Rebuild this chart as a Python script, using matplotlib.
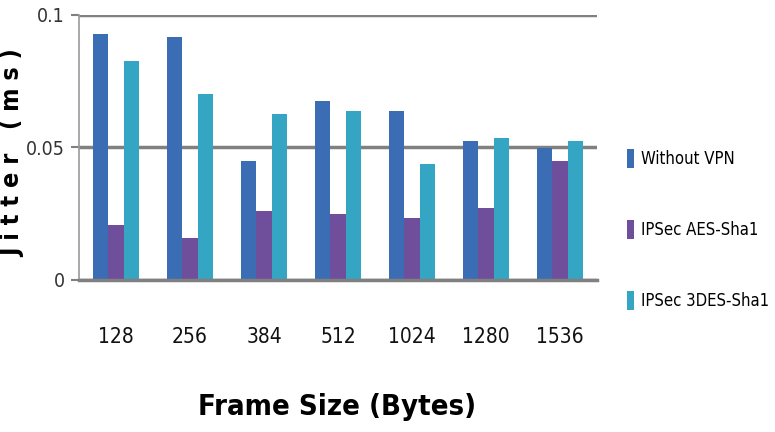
import matplotlib
matplotlib.use("Agg")
import matplotlib.pyplot as plt
import numpy as np

categories = ["128", "256", "384", "512", "1024", "1280", "1536"]
without_vpn = [0.0928, 0.0917, 0.0448, 0.0675, 0.0637, 0.0524, 0.0497]
ipsec_aes = [0.0206, 0.0157, 0.0260, 0.0248, 0.0233, 0.0270, 0.0448]
ipsec_3des = [0.0826, 0.0701, 0.0626, 0.0637, 0.0437, 0.0535, 0.0524]
series_names = ["Without VPN", "IPSec AES-Sha1", "IPSec 3DES-Sha1"]
yticks = [0, 0.05, 0.1]
ytick_labels = ["0", "0.05", "0.1"]

colors = ["#3B6DB5", "#6F4E9B", "#34A6C3"]
fp = dict(family="DejaVu Sans", stretch="condensed")

fig = plt.figure(figsize=(7.75, 4.32), dpi=100)
ax = fig.add_axes([79/775, 1-279.5/432, (597-79)/775, (279.5-15)/432])

x = np.arange(len(categories))
w = 0.21
for i, (vals, name) in enumerate(zip([without_vpn, ipsec_aes, ipsec_3des], series_names)):
    ax.bar(x + (i - 1) * w, vals, width=w, color=colors[i], label=name, zorder=3)

ax.set_xlim(-0.5, len(categories) - 0.5)
ax.set_ylim(0, 0.1)
ax.set_yticks(yticks)
ax.set_yticklabels(ytick_labels, fontsize=14, color="#333333", **fp)
ax.set_xticks(x)
ax.set_xticklabels(categories, fontsize=15, color="#111111", **fp)
ax.tick_params(axis="x", length=0, pad=34)
ax.tick_params(axis="y", length=6, color="#808080", width=1.5, pad=4)
ax.grid(axis="y", color="#808080", linewidth=2.5, zorder=0)
ax.set_axisbelow(True)
for s in ["top", "right", "bottom"]:
    ax.spines[s].set_visible(False)
ax.spines["left"].set_color("#999999")
ax.spines["left"].set_linewidth(1.2)
ax.axhline(0, color="#808080", linewidth=2.5, zorder=4, clip_on=False)

fig.text(337/775, 1-407/432, "Frame Size (Bytes)", ha="center", va="center",
         fontsize=21, fontweight="bold", color="#000000", **fp)
fig.text(1/775, 1-153/432, "J i t t e r   ( m s )", ha="left", va="center",
         rotation=90, fontsize=18, fontweight="bold", color="#000000", **fp)

leg = fig.legend(loc="upper left", bbox_to_anchor=(620/775, 1-142/432), frameon=False,
                 prop={"family": "DejaVu Sans", "stretch": "condensed", "size": 12},
                 handlelength=0.45, handleheight=1.4,
                 handletextpad=0.4, labelspacing=3.1, borderaxespad=0)

fig.savefig("out.png", dpi=100)
